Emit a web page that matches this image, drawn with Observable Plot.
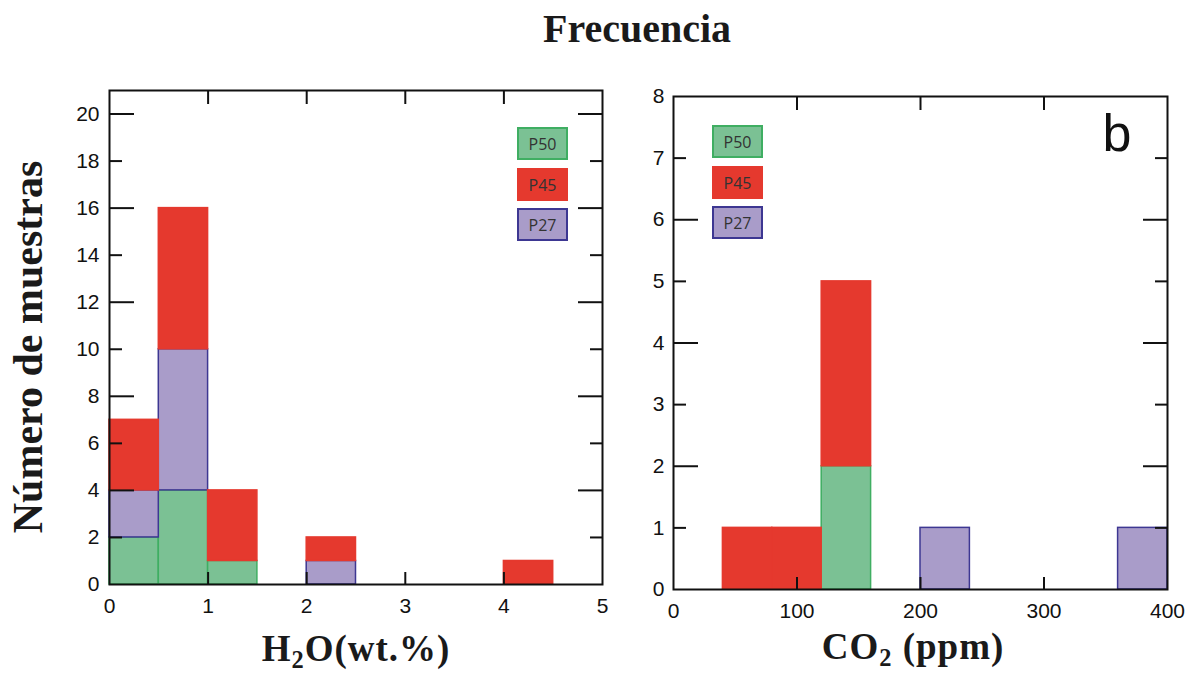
<!DOCTYPE html>
<html>
<head>
<meta charset="utf-8">
<script src="https://cdn.jsdelivr.net/npm/d3@7"></script>
<script src="https://cdn.jsdelivr.net/npm/@observablehq/plot@0.6"></script>
<style>
  body { margin: 0; background: #fff; }
  #wrap { position: relative; width: 1185px; height: 678px; overflow: hidden; background: #fff; }
  .abs { position: absolute; }
  .serif { font-family: "Liberation Serif", "DejaVu Serif", serif; font-weight: bold; color: #1a1a1a; white-space: nowrap; }
  .leg { position: absolute; box-sizing: border-box; width: 51px; height: 33px; border: 2px solid;
         font-family: "Open Sans", sans-serif; font-size: 16px; color: #333;
         display: flex; align-items: center; justify-content: center; }
  sub.s { font-size: 0.66em; vertical-align: -0.28em; line-height: 0; }
</style>
</head>
<body>
<div id="wrap"></div>
<script>
// ---------- data ----------
const stackOrder = ["P50", "P27", "P45"];          // bottom -> top
const legendOrder = ["P50", "P45", "P27"];
const fills   = {P50: "#7bc194", P45: "#e5392e", P27: "#a99cc9"};
const strokes = {P50: "#3fae62", P45: "#e5392e", P27: "#3d3792"};

const h2oBinStart = [0, 0.5, 1, 1.5, 2, 2.5, 3, 3.5, 4, 4.5];
const h2oBinWidth = 0.5;
const h2oP50 = [2, 4, 1, 0, 0, 0, 0, 0, 0, 0];
const h2oP27 = [2, 6, 0, 0, 1, 0, 0, 0, 0, 0];
const h2oP45 = [3, 6, 3, 0, 1, 0, 0, 0, 1, 0];

const co2BinStart = [0, 40, 80, 120, 160, 200, 240, 280, 320, 360];
const co2BinWidth = 40;
const co2P50 = [0, 0, 0, 2, 0, 0, 0, 0, 0, 0];
const co2P27 = [0, 0, 0, 0, 0, 1, 0, 0, 0, 1];
const co2P45 = [0, 1, 1, 3, 0, 0, 0, 0, 0, 0];

const h2oXTicks = [0, 1, 2, 3, 4, 5];
const h2oXInner = [1, 2, 3, 4];
const h2oYTicks = [0, 2, 4, 6, 8, 10, 12, 14, 16, 18, 20];
const h2oYMajor = [4, 8, 12, 16, 20];
const h2oYMinor = [2, 6, 10, 14, 18];

const co2XTicks = [0, 100, 200, 300, 400];
const co2XInner = [100, 200, 300];
const co2YTicks = [0, 1, 2, 3, 4, 5, 6, 7, 8];
const co2YMajor = [2, 4, 6];
const co2YMinor = [1, 3, 5, 7];

// ---------- helpers ----------
function buildRows(starts, width, bySeries) {
  const rows = [];
  for (const s of stackOrder) {
    bySeries[s].forEach((v, i) => {
      if (v > 0) rows.push({x1: starts[i], x2: starts[i] + width, n: v, series: s, fill: fills[s], stroke: strokes[s]});
    });
  }
  return rows;
}

const fmt = d => String(d);

function panel(o) {
  const tickStyle = {stroke: "#111", strokeWidth: 2, label: null, tickFormat: () => ""};
  return Plot.plot({
    width: o.width, height: o.height,
    marginLeft: o.ml, marginRight: o.mr, marginTop: o.mt, marginBottom: o.mb,
    x: {domain: o.xDomain},
    y: {domain: o.yDomain},
    color: {type: "identity"},
    style: {fontFamily: "'Liberation Sans', Arial, sans-serif", fontSize: "21px", color: "#111", background: "transparent", overflow: "visible"},
    marks: [
      Plot.rectY(o.rows, {x1: "x1", x2: "x2", y: "n", z: "series", fill: "fill", stroke: "stroke", strokeWidth: 1.5}),
      Plot.axisY({...tickStyle, ticks: o.yMajor, anchor: "left", tickSize: -25}),
      Plot.axisY({...tickStyle, ticks: o.yMinor, anchor: "left", tickSize: -13}),
      Plot.axisY({...tickStyle, ticks: o.yMajor, anchor: "right", tickSize: -25}),
      Plot.axisY({...tickStyle, ticks: o.yMinor, anchor: "right", tickSize: -13}),
      Plot.axisX({...tickStyle, ticks: o.xInner, anchor: "bottom", tickSize: -12}),
      Plot.axisX({...tickStyle, ticks: o.xInner, anchor: "top", tickSize: -13}),
      Plot.axisY({ticks: o.yTicks, anchor: "left", tickSize: 0, tickPadding: o.yPad, label: null, fontSize: 21, tickFormat: fmt}),
      Plot.axisX({ticks: o.xTicks, anchor: "bottom", tickSize: 0, tickPadding: 14, label: null, fontSize: 21, tickFormat: fmt}),
      Plot.frame({stroke: "#111", strokeWidth: 2}),
      ...(o.extra || [])
    ]
  });
}

const wrap = document.getElementById("wrap");

// ---------- left panel: H2O ----------
const left = panel({
  width: 630, height: 640, ml: 109, mr: 28, mt: 90, mb: 56,
  xDomain: [0, 5], yDomain: [0, 21],
  rows: buildRows(h2oBinStart, h2oBinWidth, {P50: h2oP50, P27: h2oP27, P45: h2oP45}),
  xTicks: h2oXTicks, xInner: h2oXInner, yTicks: h2oYTicks, yMajor: h2oYMajor, yMinor: h2oYMinor, yPad: 10
});
left.style.position = "absolute"; left.style.left = "0px"; left.style.top = "0px";
wrap.appendChild(left);

// ---------- right panel: CO2 ----------
const right = panel({
  width: 555, height: 640, ml: 43, mr: 18, mt: 96, mb: 51,
  xDomain: [0, 400], yDomain: [0, 8],
  rows: buildRows(co2BinStart, co2BinWidth, {P50: co2P50, P27: co2P27, P45: co2P45}),
  xTicks: co2XTicks, xInner: co2XInner, yTicks: co2YTicks, yMajor: co2YMajor, yMinor: co2YMinor, yPad: 9,
  extra: [Plot.text(["b"], {frameAnchor: "top-right", dx: -36, dy: 18, fontSize: 52, fill: "#111", fontFamily: "'Liberation Sans', Arial, sans-serif"})]
});
right.style.position = "absolute"; right.style.left = "630px"; right.style.top = "0px";
wrap.appendChild(right);

// ---------- texts ----------
function addText(html, css, cls = "abs serif") {
  const d = document.createElement("div");
  d.className = cls;
  d.innerHTML = html;
  Object.assign(d.style, css);
  wrap.appendChild(d);
  return d;
}
addText("Frecuencia", {left: "437px", width: "400px", top: "9px", fontSize: "40px", lineHeight: "40px", textAlign: "center"});
addText('H<sub class="s">2</sub>O(wt.%)', {left: "156px", width: "400px", top: "630px", fontSize: "37px", lineHeight: "37px", textAlign: "center", letterSpacing: "1px"});
addText('CO<sub class="s">2</sub> (ppm)', {left: "713px", width: "400px", top: "628px", fontSize: "37px", lineHeight: "37px", textAlign: "center", letterSpacing: "1px"});
addText("Número de muestras", {left: "-222px", width: "500px", top: "326px", height: "42px", fontSize: "42px", lineHeight: "42px", textAlign: "center", transform: "rotate(-90deg)"});

// ---------- legends ----------
function addLegend(x, ys) {
  legendOrder.forEach((s, i) => {
    const d = document.createElement("div");
    d.className = "leg";
    d.textContent = s;
    Object.assign(d.style, {left: x + "px", top: ys[i] + "px", background: fills[s], borderColor: strokes[s]});
    wrap.appendChild(d);
  });
}
addLegend(517, [127, 168, 208]);
addLegend(712, [125, 166, 206]);
</script>
</body>
</html>
